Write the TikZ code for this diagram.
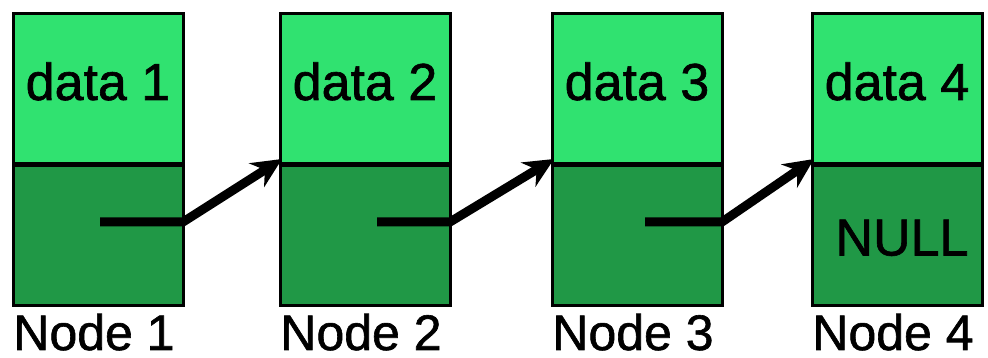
\documentclass[tikz,border=0pt]{standalone}
\usepackage{fontspec}
\setmainfont{Liberation Sans}
\newfontfamily\labelfont{Liberation Sans}[FakeBold=1.2]
\usetikzlibrary{arrows.meta,calc}
\definecolor{lightg}{RGB}{48,226,112}
\definecolor{darkg}{RGB}{32,152,70}
\begin{document}
\begin{tikzpicture}[x=1pt,y=1pt,
  databox/.style={draw=black, line width=3pt, fill=lightg, minimum width=170pt, minimum height=151pt, inner sep=0pt, outer sep=0pt, anchor=north west},
  ptrbox/.style={draw=black, line width=3pt, fill=darkg, minimum width=170pt, minimum height=141pt, inner sep=0pt, outer sep=0pt, anchor=north west},
  big/.style={font=\labelfont\fontsize{52}{60}\selectfont, inner sep=0pt, anchor=base},
  caption/.style={font=\labelfont\fontsize{50}{56}\selectfont, inner sep=0pt, anchor=base},
  divider/.style={line width=5pt},
  link/.style={line width=9pt, line join=round, -{Stealth[length=30pt,width=28pt]}}]
\useasboundingbox (0,0) rectangle (988,358);
\foreach \i/\x in {1/13,2/280,3/552,4/812}{
  \node[ptrbox] (p\i) at (\x,193) {};
  \node[databox] (d\i) at (\x,344) {};
  \draw[divider] (d\i.south west) -- (d\i.south east);
  \node[big] (t\i) at ($(d\i.north)+(0,-86)$) {data \i};
  \node[caption] (n\i) at ($(p\i.south)+(-4,-44)$) {Node \i};
}
\node[big] (null) at ($(p4.center)+(5,-20)$) {NULL};
\coordinate (s1) at (100,136);
\coordinate (s2) at (377,136);
\coordinate (s3) at (645,136);
\coordinate (e2) at (282,199);
\coordinate (e3) at (554,199);
\coordinate (e4) at (814,199);
\draw[link] (s1) -- (p1.east |- s1) -- (e2);
\draw[link] (s2) -- (p2.east |- s2) -- (e3);
\draw[link] (s3) -- (p3.east |- s3) -- (e4);
\end{tikzpicture}
\end{document}
